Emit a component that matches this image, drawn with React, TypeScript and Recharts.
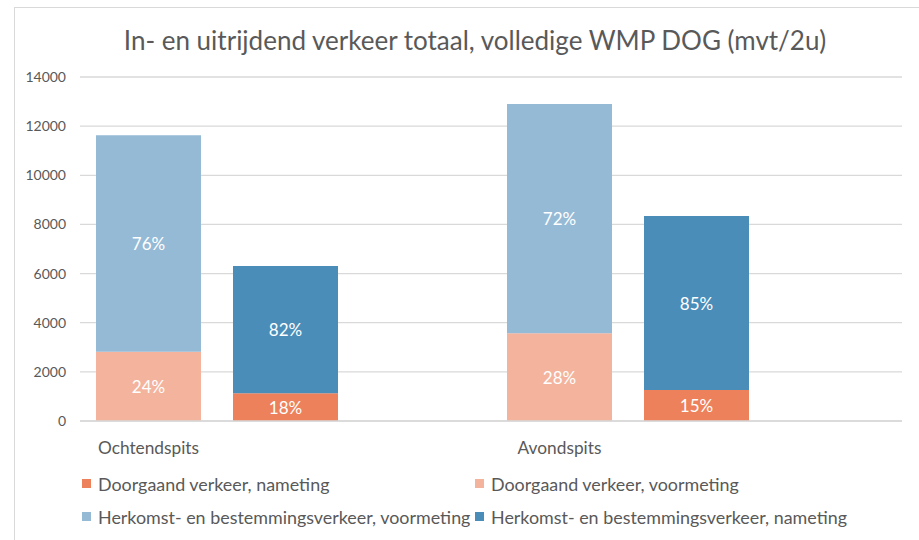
import { BarChart, Bar, XAxis, YAxis, CartesianGrid, LabelList } from 'recharts';

const periods = ['Ochtendspits', 'Avondspits'];
const doorgaandVoor = [2820, 3570];
const herkomstVoor = [8810, 9330];
const doorgaandNa = [1130, 1260];
const herkomstNa = [5180, 7080];
const yTicks = [0, 2000, 4000, 6000, 8000, 10000, 12000, 14000];

const FONT = 'Lato, "Open Sans", sans-serif';
const TEXT = '#595959';
const GRID = '#d9d9d9';

const series = [
  { key: 'doorgaandNa', name: 'Doorgaand verkeer, nameting', color: '#ED815B' },
  { key: 'doorgaandVoor', name: 'Doorgaand verkeer, voormeting', color: '#F4B39D' },
  { key: 'herkomstVoor', name: 'Herkomst- en bestemmingsverkeer, voormeting', color: '#95BAD6' },
  { key: 'herkomstNa', name: 'Herkomst- en bestemmingsverkeer, nameting', color: '#4A8DB9' },
];

const pct = (v: number, total: number) => `${Math.round((v / total) * 100)}%`;

// three slots per period: voormeting stack, nameting stack, empty gap
const rows: any[] = [];
periods.forEach((p, i) => {
  const tv = doorgaandVoor[i] + herkomstVoor[i];
  const tn = doorgaandNa[i] + herkomstNa[i];
  rows.push({
    slot: `${p}-voor`, label: p,
    doorgaandVoor: doorgaandVoor[i], herkomstVoor: herkomstVoor[i],
    doorgaandVoorPct: pct(doorgaandVoor[i], tv), herkomstVoorPct: pct(herkomstVoor[i], tv),
  });
  rows.push({
    slot: `${p}-na`, label: '',
    doorgaandNa: doorgaandNa[i], herkomstNa: herkomstNa[i],
    doorgaandNaPct: pct(doorgaandNa[i], tn), herkomstNaPct: pct(herkomstNa[i], tn),
  });
  rows.push({ slot: `${p}-leeg`, label: '' });
});

const labelFor = (slot: string) => rows.find((r) => r.slot === slot)?.label ?? '';

function PctLabel(props: any) {
  const { x, y, width, height, value } = props;
  if (value == null || value === '') return null;
  return (
    <text
      x={x + width / 2}
      y={y + height / 2}
      fill="#ffffff"
      fontSize={17}
      fontFamily={FONT}
      textAnchor="middle"
      dominantBaseline="central"
    >
      {value}
    </text>
  );
}

export default function App() {
  return (
    <div style={{ position: 'absolute', left: 0, top: 0, width: 919, height: 540, overflow: 'hidden', background: '#fff', fontFamily: FONT }}>
      <div style={{ position: 'absolute', left: 14, top: 7, width: 940, height: 560, border: `1px solid ${GRID}` }} />
      <div style={{ position: 'absolute', left: 0, top: 24, width: 950, textAlign: 'center', fontSize: 26, color: TEXT }}>
        In- en uitrijdend verkeer totaal, volledige WMP DOG (mvt/2u)
      </div>
      <div style={{ position: 'absolute', left: 0, top: 0 }}>
        <BarChart width={919} height={540} data={rows} margin={{ top: 77, right: 17, left: 20, bottom: 89 }} barSize={105}>
          <CartesianGrid vertical={false} stroke={GRID} strokeWidth={1.3} />
          <XAxis
            dataKey="slot"
            tickFormatter={labelFor}
            tick={{ fontSize: 17.3, fill: TEXT, fontFamily: FONT }}
            tickLine={false}
            axisLine={{ stroke: GRID, strokeWidth: 1.3 }}
            tickMargin={15}
            height={30}
            interval={0}
          />
          <YAxis
            domain={[0, 14000]}
            ticks={yTicks}
            tick={{ fontSize: 14, fill: TEXT, fontFamily: FONT }}
            tickLine={false}
            axisLine={false}
            tickMargin={8}
            width={60}
          />
          {series.map((s) => (
            <Bar key={s.key} dataKey={s.key} name={s.name} stackId="a" fill={s.color} isAnimationActive={false}>
              <LabelList dataKey={`${s.key}Pct`} content={<PctLabel />} />
            </Bar>
          ))}
        </BarChart>
      </div>
      <div style={{ position: 'absolute', left: 82, top: 472, display: 'grid', gridTemplateColumns: '393px 420px', rowGap: 10, fontSize: 17.9, color: TEXT }}>
        {series.map((s) => (
          <div key={s.key} style={{ display: 'flex', alignItems: 'center', height: 23, whiteSpace: 'nowrap' }}>
            <span style={{ width: 9, height: 9, background: s.color, marginRight: 7, display: 'inline-block' }} />
            {s.name}
          </div>
        ))}
      </div>
    </div>
  );
}
